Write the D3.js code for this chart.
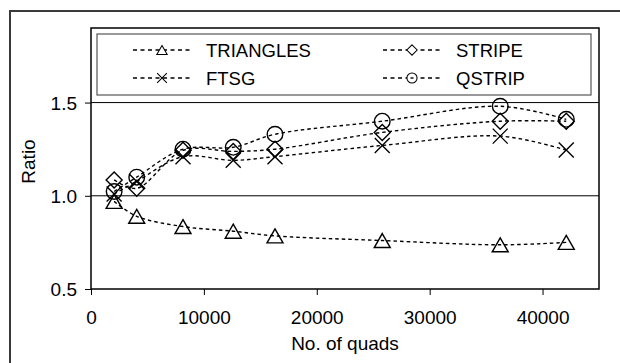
<!DOCTYPE html>
<meta charset="utf-8">
<style>
  body { margin: 0; background: #fff; }
  text { font-family: "Liberation Sans", Arial, sans-serif; fill: #000; }
</style>
<body>
<script src="https://d3js.org/d3.v7.min.js"></script>
<script>

// values
var quads     = [2050, 4050, 8150, 12600, 16300, 25800, 36250, 42100];
var triangles = [0.97, 0.89, 0.835, 0.81, 0.785, 0.76, 0.737, 0.75];
var stripe    = [1.085, 1.04, 1.244, 1.238, 1.25, 1.34, 1.40, 1.40];
var ftsg      = [1.01, 1.077, 1.21, 1.19, 1.21, 1.27, 1.32, 1.245];
var qstrip    = [1.023, 1.10, 1.25, 1.26, 1.33, 1.40, 1.48, 1.41];

var seriesNames = ["TRIANGLES", "STRIPE", "FTSG", "QSTRIP"];
var xTicks = [0, 10000, 20000, 30000, 40000];
var yTicks = [0.5, 1.0, 1.5];
var gridValues = [1.0, 1.5];

var series = [
  {name: "TRIANGLES", shape: "triangle", values: triangles},
  {name: "STRIPE", shape: "diamond", values: stripe},
  {name: "FTSG", shape: "cross", values: ftsg},
  {name: "QSTRIP", shape: "circle", values: qstrip}
];

var width = 620, height = 363;
var plot = {left: 91, right: 599, top: 28, bottom: 289};

var svg = d3.select("body").append("svg")
    .attr("width", width)
    .attr("height", height);

// outer chart frame (cut off at right and bottom in the reference)
svg.append("rect")
    .attr("x", 10).attr("y", 11)
    .attr("width", 640).attr("height", 400)
    .attr("fill", "none")
    .attr("stroke", "#3a3a3a")
    .attr("stroke-width", 2);

var x = d3.scaleLinear()
    .domain([0, 45000])
    .range([plot.left, plot.right]);

var y = d3.scaleLinear()
    .domain([0.5, 1.9])
    .range([plot.bottom, plot.top]);

// gridlines
svg.append("g").selectAll("line")
    .data(gridValues)
  .enter().append("line")
    .attr("x1", plot.left).attr("x2", plot.right)
    .attr("y1", function(d) { return y(d); })
    .attr("y2", function(d) { return y(d); })
    .attr("stroke", "#000")
    .attr("stroke-width", 1);

// plot area border
svg.append("rect")
    .attr("x", plot.left).attr("y", plot.top)
    .attr("width", plot.right - plot.left)
    .attr("height", plot.bottom - plot.top)
    .attr("fill", "none")
    .attr("stroke", "#000")
    .attr("stroke-width", 1.5);

// axes
var xAxis = svg.append("g")
    .attr("transform", "translate(0," + plot.bottom + ")")
    .call(d3.axisBottom(x).tickValues(xTicks).tickFormat(d3.format("d"))
      .tickSize(6).tickPadding(16));

var yAxis = svg.append("g")
    .attr("transform", "translate(" + plot.left + ",0)")
    .call(d3.axisLeft(y).tickValues(yTicks).tickFormat(d3.format(".1f"))
      .tickSize(6).tickPadding(8));

[xAxis, yAxis].forEach(function(a) {
  a.select(".domain").remove();
  a.selectAll("line").attr("stroke", "#000").attr("stroke-width", 1);
  a.selectAll("text").style("font-size", "19px").attr("fill", "#000")
    .style("font-family", "'Liberation Sans', Arial, sans-serif");
});
yAxis.selectAll("text").attr("dy", "0.36em");

// axis titles
svg.append("text")
    .attr("x", (plot.left + plot.right) / 2)
    .attr("y", 350)
    .attr("text-anchor", "middle")
    .style("font-size", "19px")
    .text("No. of quads");

svg.append("text")
    .attr("transform", "translate(35," + ((plot.top + plot.bottom) / 2 + 3) + ") rotate(-90)")
    .attr("text-anchor", "middle")
    .style("font-size", "19px")
    .text("Ratio");

function markerPath(shape) {
  if (shape == "triangle") return "M0,-7L8,7L-8,7Z";
  if (shape == "diamond") return "M0,-8L8,0L0,8L-8,0Z";
  if (shape == "cross") return "M-7.5,-7.5L7.5,7.5M-7.5,7.5L7.5,-7.5";
  return "M7.8,0A7.8,7.8 0 1,1 -7.8,0A7.8,7.8 0 1,1 7.8,0Z";
}

var line = d3.line()
    .x(function(d) { return x(d[0]); })
    .y(function(d) { return y(d[1]); })
    .curve(d3.curveCatmullRom.alpha(0.5));

var lines = svg.append("g");
var marks = svg.append("g");

series.forEach(function(s) {
  var pts = quads.map(function(q, i) { return [q, s.values[i]]; });

  lines.append("path")
      .datum(pts)
      .attr("d", line)
      .attr("fill", "none")
      .attr("stroke", "#000")
      .attr("stroke-width", 1.4)
      .attr("stroke-dasharray", "3.5,3");

  marks.append("g").selectAll("path")
      .data(pts)
    .enter().append("path")
      .attr("transform", function(d) { return "translate(" + x(d[0]) + "," + y(d[1]) + ")"; })
      .attr("d", markerPath(s.shape))
      .attr("fill", "none")
      .attr("stroke", "#000")
      .attr("stroke-width", 1.4);
});

// legend
var legend = svg.append("g");
legend.append("rect")
    .attr("x", 97).attr("y", 34)
    .attr("width", 591 - 97).attr("height", 95 - 34)
    .attr("fill", "#fff")
    .attr("stroke", "#555")
    .attr("stroke-width", 1.2);

var legendPos = {
  TRIANGLES: [162, 50], STRIPE: [412, 50],
  FTSG: [162, 78], QSTRIP: [412, 78]
};

series.forEach(function(s) {
  var p = legendPos[s.name];
  var g = legend.append("g").attr("transform", "translate(" + p[0] + "," + p[1] + ")");
  g.append("line")
      .attr("x1", -29).attr("x2", 31)
      .attr("stroke", "#000").attr("stroke-width", 1.4)
      .attr("stroke-dasharray", "4,3.5");
  g.append("path")
      .attr("d", markerPath(s.shape))
      .attr("transform", "scale(0.65)")
      .attr("fill", "#fff")
      .attr("stroke", "#000")
      .attr("stroke-width", 1.6);
  if (s.shape == "circle") {
    g.append("line").attr("x1", -1.5).attr("x2", 1.5)
      .attr("stroke", "#000").attr("stroke-width", 1.4);
  }
  g.append("text")
      .attr("x", 44)
      .attr("dy", "0.36em")
      .style("font-size", "18.5px")
      .text(s.name);
});

</script>
</body>
